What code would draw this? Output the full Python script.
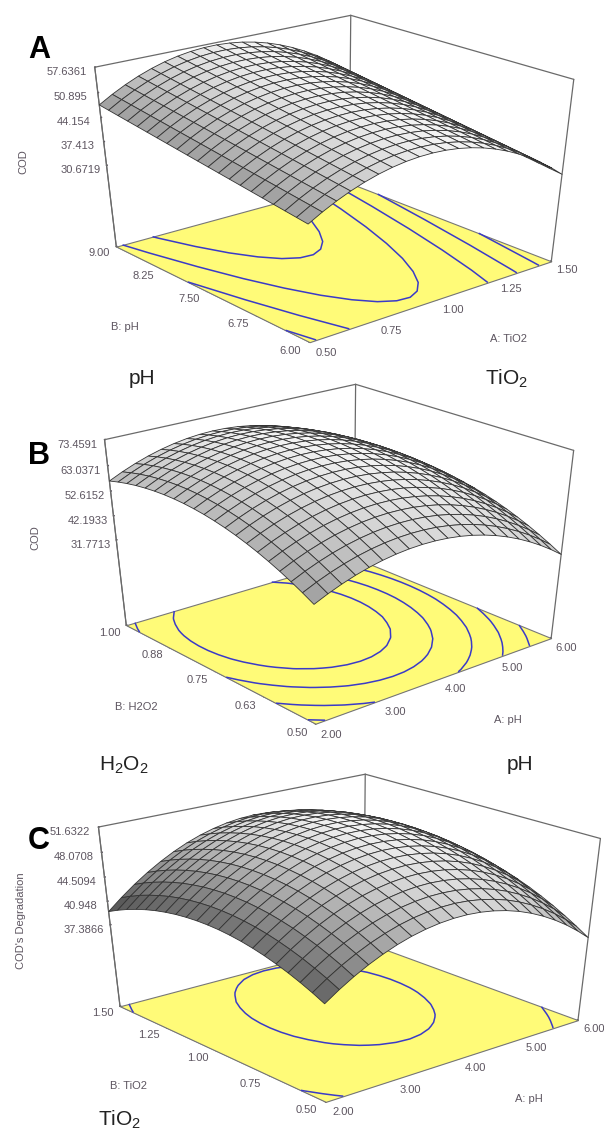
import numpy as np, matplotlib
matplotlib.use('Agg')
import matplotlib.pyplot as plt, seaborn as sns
from matplotlib.transforms import ScaledTranslation

sns.set_theme(style='white')
plt.rcParams['font.family'] = ['Liberation Sans', 'DejaVu Sans']
plt.rcParams['mathtext.default'] = 'regular'

# ---- data: response heights, rows = factor B, columns = factor A
COD_A = [
[38.60,40.65,42.44,43.99,45.28,46.33,47.12,47.67,47.96,48.01,47.80,47.35,46.64,45.69,44.48,43.03,41.32,39.37,37.16,34.70,32.00],
[39.05,41.10,42.89,44.44,45.73,46.78,47.57,48.12,48.41,48.46,48.25,47.80,47.09,46.14,44.93,43.48,41.77,39.82,37.61,35.15,32.45],
[39.50,41.55,43.34,44.89,46.18,47.23,48.02,48.57,48.86,48.91,48.70,48.25,47.54,46.59,45.38,43.93,42.22,40.27,38.06,35.60,32.90],
[39.95,42.00,43.79,45.34,46.63,47.68,48.47,49.02,49.31,49.36,49.15,48.70,47.99,47.04,45.83,44.38,42.67,40.72,38.51,36.05,33.35],
[40.40,42.45,44.24,45.79,47.08,48.13,48.92,49.47,49.76,49.81,49.60,49.15,48.44,47.49,46.28,44.83,43.12,41.17,38.96,36.50,33.80],
[40.85,42.90,44.69,46.24,47.53,48.58,49.37,49.92,50.21,50.26,50.05,49.60,48.89,47.94,46.73,45.28,43.57,41.62,39.41,36.95,34.25],
[41.30,43.35,45.14,46.69,47.98,49.03,49.82,50.37,50.66,50.71,50.50,50.05,49.34,48.39,47.18,45.73,44.02,42.07,39.86,37.40,34.70],
[41.75,43.80,45.59,47.14,48.43,49.48,50.27,50.82,51.11,51.16,50.95,50.50,49.79,48.84,47.63,46.18,44.47,42.52,40.31,37.85,35.15],
[42.20,44.25,46.04,47.59,48.88,49.93,50.72,51.27,51.56,51.61,51.40,50.95,50.24,49.29,48.08,46.63,44.92,42.97,40.76,38.30,35.60],
[42.65,44.70,46.49,48.04,49.33,50.38,51.17,51.72,52.01,52.06,51.85,51.40,50.69,49.74,48.53,47.08,45.37,43.42,41.21,38.75,36.05],
[43.10,45.15,46.94,48.49,49.78,50.83,51.62,52.17,52.46,52.51,52.30,51.85,51.14,50.19,48.98,47.53,45.82,43.87,41.66,39.20,36.50],
[43.55,45.60,47.39,48.94,50.23,51.28,52.07,52.62,52.91,52.96,52.75,52.30,51.59,50.64,49.43,47.98,46.27,44.32,42.11,39.65,36.95],
[44.00,46.05,47.84,49.39,50.68,51.73,52.52,53.07,53.36,53.41,53.20,52.75,52.04,51.09,49.88,48.43,46.72,44.77,42.56,40.10,37.40],
[44.45,46.50,48.29,49.84,51.13,52.18,52.97,53.52,53.81,53.86,53.65,53.20,52.49,51.54,50.33,48.88,47.17,45.22,43.01,40.55,37.85],
[44.90,46.95,48.74,50.29,51.58,52.63,53.42,53.97,54.26,54.31,54.10,53.65,52.94,51.99,50.78,49.33,47.62,45.67,43.46,41.00,38.30],
[45.35,47.40,49.19,50.74,52.03,53.08,53.87,54.42,54.71,54.76,54.55,54.10,53.39,52.44,51.23,49.78,48.07,46.12,43.91,41.45,38.75],
[45.80,47.85,49.64,51.19,52.48,53.53,54.32,54.87,55.16,55.21,55.00,54.55,53.84,52.89,51.68,50.23,48.52,46.57,44.36,41.90,39.20],
[46.25,48.30,50.09,51.64,52.93,53.98,54.77,55.32,55.61,55.66,55.45,55.00,54.29,53.34,52.13,50.68,48.97,47.02,44.81,42.35,39.65],
[46.70,48.75,50.54,52.09,53.38,54.43,55.22,55.77,56.06,56.11,55.90,55.45,54.74,53.79,52.58,51.13,49.42,47.47,45.26,42.80,40.10],
[47.15,49.20,50.99,52.54,53.83,54.88,55.67,56.22,56.51,56.56,56.35,55.90,55.19,54.24,53.03,51.58,49.87,47.92,45.71,43.25,40.55],
[47.60,49.65,51.44,52.99,54.28,55.33,56.12,56.67,56.96,57.01,56.80,56.35,55.64,54.69,53.48,52.03,50.32,48.37,46.16,43.70,41.00],
]
COD_B = [
[42.70,45.14,47.26,49.06,50.54,51.70,52.54,53.06,53.26,53.14,52.70,51.94,50.86,49.46,47.74,45.70,43.34,40.66,37.66,34.34,30.70],
[45.25,47.69,49.81,51.61,53.09,54.25,55.09,55.61,55.81,55.69,55.25,54.49,53.41,52.01,50.29,48.25,45.89,43.21,40.21,36.89,33.25],
[47.61,50.05,52.17,53.97,55.45,56.61,57.45,57.97,58.17,58.05,57.61,56.85,55.77,54.37,52.65,50.61,48.25,45.57,42.57,39.25,35.61],
[49.78,52.22,54.34,56.14,57.62,58.78,59.62,60.14,60.34,60.22,59.78,59.02,57.94,56.54,54.82,52.78,50.42,47.74,44.74,41.42,37.78],
[51.74,54.18,56.30,58.10,59.58,60.74,61.58,62.10,62.30,62.18,61.74,60.98,59.90,58.50,56.78,54.74,52.38,49.70,46.70,43.38,39.74],
[53.52,55.96,58.08,59.88,61.36,62.52,63.36,63.88,64.08,63.96,63.52,62.76,61.68,60.28,58.56,56.52,54.16,51.48,48.48,45.16,41.52],
[55.10,57.54,59.66,61.46,62.94,64.10,64.94,65.46,65.66,65.54,65.10,64.34,63.26,61.86,60.14,58.10,55.74,53.06,50.06,46.74,43.10],
[56.49,58.93,61.05,62.85,64.33,65.49,66.33,66.85,67.05,66.93,66.49,65.73,64.65,63.25,61.53,59.49,57.13,54.45,51.45,48.13,44.49],
[57.68,60.12,62.24,64.04,65.52,66.68,67.52,68.04,68.24,68.12,67.68,66.92,65.84,64.44,62.72,60.68,58.32,55.64,52.64,49.32,45.68],
[58.67,61.11,63.23,65.03,66.51,67.67,68.51,69.03,69.23,69.11,68.67,67.91,66.83,65.43,63.71,61.67,59.31,56.63,53.63,50.31,46.67],
[59.48,61.92,64.04,65.84,67.32,68.48,69.32,69.84,70.04,69.92,69.48,68.72,67.64,66.24,64.52,62.48,60.12,57.44,54.44,51.12,47.48],
[60.08,62.52,64.64,66.44,67.92,69.08,69.92,70.44,70.64,70.52,70.08,69.32,68.24,66.84,65.12,63.08,60.72,58.04,55.04,51.72,48.08],
[60.50,62.94,65.06,66.86,68.34,69.50,70.34,70.86,71.06,70.94,70.50,69.74,68.66,67.26,65.54,63.50,61.14,58.46,55.46,52.14,48.50],
[60.72,63.16,65.28,67.08,68.56,69.72,70.56,71.08,71.28,71.16,70.72,69.96,68.88,67.48,65.76,63.72,61.36,58.68,55.68,52.36,48.72],
[60.74,63.18,65.30,67.10,68.58,69.74,70.58,71.10,71.30,71.18,70.74,69.98,68.90,67.50,65.78,63.74,61.38,58.70,55.70,52.38,48.74],
[60.57,63.01,65.13,66.93,68.41,69.57,70.41,70.93,71.13,71.01,70.57,69.81,68.73,67.33,65.61,63.57,61.21,58.53,55.53,52.21,48.57],
[60.20,62.64,64.76,66.56,68.04,69.20,70.04,70.56,70.76,70.64,70.20,69.44,68.36,66.96,65.24,63.20,60.84,58.16,55.16,51.84,48.20],
[59.65,62.09,64.21,66.01,67.49,68.65,69.49,70.01,70.21,70.09,69.65,68.89,67.81,66.41,64.69,62.65,60.29,57.61,54.61,51.29,47.65],
[58.89,61.33,63.45,65.25,66.73,67.89,68.73,69.25,69.45,69.33,68.89,68.13,67.05,65.65,63.93,61.89,59.53,56.85,53.85,50.53,46.89],
[57.94,60.38,62.50,64.30,65.78,66.94,67.78,68.30,68.50,68.38,67.94,67.18,66.10,64.70,62.98,60.94,58.58,55.90,52.90,49.58,45.94],
[56.80,59.24,61.36,63.16,64.64,65.80,66.64,67.16,67.36,67.24,66.80,66.04,64.96,63.56,61.84,59.80,57.44,54.76,51.76,48.44,44.80],
]
COD_C = [
[38.80,40.18,41.41,42.48,43.40,44.17,44.79,45.25,45.56,45.72,45.73,45.58,45.28,44.83,44.23,43.47,42.56,41.50,40.29,38.92,37.40],
[39.64,41.03,42.28,43.36,44.29,45.07,45.71,46.18,46.50,46.67,46.70,46.56,46.27,45.83,45.25,44.50,43.60,42.55,41.36,40.00,38.49],
[40.39,41.80,43.05,44.15,45.09,45.89,46.53,47.02,47.35,47.54,47.57,47.45,47.17,46.75,46.17,45.44,44.55,43.52,42.33,40.99,39.49],
[41.06,42.48,43.75,44.85,45.81,46.62,47.28,47.77,48.12,48.32,48.37,48.25,47.99,47.58,47.02,46.29,45.42,44.40,43.23,41.89,40.41],
[41.64,43.07,44.35,45.47,46.44,47.26,47.93,48.44,48.80,49.01,49.07,48.97,48.72,48.32,47.77,47.06,46.20,45.19,44.03,42.71,41.24],
[42.14,43.58,44.88,46.01,46.99,47.82,48.51,49.03,49.40,49.62,49.70,49.61,49.37,48.98,48.45,47.75,46.90,45.90,44.76,43.45,41.99],
[42.55,44.01,45.31,46.46,47.45,48.30,48.99,49.53,49.91,50.15,50.23,50.16,49.93,49.56,49.03,48.35,47.51,46.53,45.39,44.10,42.65],
[42.88,44.35,45.67,46.82,47.83,48.69,49.40,49.94,50.34,50.59,50.69,50.62,50.41,50.05,49.54,48.86,48.04,47.07,45.95,44.66,43.23],
[43.12,44.60,45.93,47.10,48.12,48.99,49.71,50.27,50.68,50.94,51.05,51.00,50.80,50.45,49.95,49.29,48.48,47.52,46.41,45.14,43.72],
[43.28,44.77,46.12,47.30,48.33,49.21,49.95,50.52,50.94,51.21,51.34,51.30,51.11,50.77,50.29,49.64,48.84,47.89,46.80,45.54,44.13],
[43.35,44.86,46.21,47.41,48.45,49.35,50.09,50.68,51.11,51.40,51.53,51.51,51.33,51.01,50.53,49.90,49.11,48.18,47.09,45.85,44.45],
[43.34,44.86,46.23,47.43,48.49,49.40,50.16,50.75,51.20,51.50,51.65,51.63,51.47,51.16,50.70,50.07,49.30,48.38,47.31,46.07,44.69],
[43.24,44.77,46.15,47.37,48.44,49.36,50.13,50.74,51.20,51.51,51.67,51.67,51.52,51.22,50.77,50.16,49.40,48.49,47.43,46.21,44.84],
[43.06,44.60,46.00,47.23,48.31,49.24,50.03,50.65,51.12,51.44,51.62,51.63,51.49,51.20,50.77,50.17,49.42,48.52,47.48,46.27,44.91],
[42.79,44.35,45.75,47.00,48.09,49.04,49.83,50.47,50.95,51.29,51.47,51.50,51.37,51.10,50.67,50.09,49.35,48.47,47.43,46.24,44.89],
[42.44,44.01,45.43,46.68,47.79,48.75,49.56,50.20,50.70,51.05,51.25,51.28,51.17,50.91,50.50,49.92,49.20,48.33,47.31,46.12,44.79],
[42.00,43.58,45.01,46.28,47.40,48.37,49.19,49.85,50.36,50.72,50.93,50.98,50.88,50.63,50.23,49.67,48.96,48.10,47.09,45.92,44.60],
[41.47,43.06,44.51,45.79,46.92,47.90,48.74,49.41,49.93,50.30,50.53,50.59,50.50,50.26,49.88,49.33,48.63,47.78,46.79,45.63,44.32],
[40.87,42.48,43.93,45.23,46.37,47.37,48.21,48.90,49.43,49.82,50.05,50.13,50.05,49.83,49.45,48.92,48.23,47.40,46.41,45.27,43.97],
[40.18,41.80,43.27,44.57,45.73,46.74,47.60,48.29,48.84,49.24,49.49,49.57,49.51,49.30,48.94,48.41,47.74,46.92,45.95,44.81,43.53],
[39.40,41.03,42.51,43.83,45.00,46.02,46.89,47.60,48.16,48.57,48.83,48.93,48.88,48.68,48.33,47.82,47.16,46.35,45.39,44.27,43.00],
]
X_TICKS_A = [0.50, 0.75, 1.00, 1.25, 1.50]
Y_TICKS_A = [6.00, 6.75, 7.50, 8.25, 9.00]
Z_TICKS_A = ['30.6719', '37.413', '44.154', '50.895', '57.6361']
X_TICKS_B = [2.00, 3.00, 4.00, 5.00, 6.00]
Y_TICKS_B = [0.50, 0.63, 0.75, 0.88, 1.00]
Z_TICKS_B = ['31.7713', '42.1933', '52.6152', '63.0371', '73.4591']
X_TICKS_C = [2.00, 3.00, 4.00, 5.00, 6.00]
Y_TICKS_C = [0.50, 0.75, 1.00, 1.25, 1.50]
Z_TICKS_C = ['37.3866', '40.948', '44.5094', '48.0708', '51.6322']
FLOOR_Z = [6.1, -7.3, 24.4]
LEVELS_A = [35, 39.6, 44, 48.6, 52.8]
LEVELS_B = [37.7, 44.5, 51.3, 58.5, 64.5]
LEVELS_C = [40.5, 49.2]

W, H = 604, 1131
fig = plt.figure(figsize=(W / 100, H / 100), dpi=100)

panels = [
    (COD_A, X_TICKS_A, Y_TICKS_A, Z_TICKS_A, FLOOR_Z[0], LEVELS_A,
     (30.1978, -129.7603, 0.5812, 1.0039, 1.02), (.0833, .6942, .9068, .3064)),
    (COD_B, X_TICKS_B, Y_TICKS_B, Z_TICKS_B, FLOOR_Z[1], LEVELS_B,
     (30.634, -130.1898, 0.5758, 0.9891, 1.0178), (.1021, .3573, .8873, .3168)),
    (COD_C, X_TICKS_C, Y_TICKS_C, Z_TICKS_C, FLOOR_Z[2], LEVELS_C,
     (29.8514, -130.1523, 0.5964, 1.0057, 0.9995), (.0888, .0215, .9453, .3093)),
]
tc = '#5d5560'
col = '#6a6a6a'


def nudge(label, ax, dx, dy):
    shift = ScaledTranslation(dx / 72, dy / 72, fig.dpi_scale_trans)
    label.get_transform = lambda: ax.transData + shift


for cod, xt, yt, zl, floor, levels, cam, rect in panels:
    ax = fig.add_axes(list(rect), projection='3d')
    ax.apply_aspect = lambda position=None: None
    Z = np.array(cod)
    x0, x1, y0, y1 = xt[0], xt[-1], yt[0], yt[-1]
    zv = [float(v) for v in zl]
    z0, z1 = floor, zv[-1]
    ax.set_xlim(x0, x1, view_margin=0)
    ax.set_ylim(y0, y1, view_margin=0)
    ax.set_zlim(z0, z1, view_margin=0)
    ax.view_init(elev=cam[0], azim=cam[1])
    ax.set_proj_type('persp', focal_length=cam[2])
    ax.set_box_aspect((1, cam[3], cam[4]))
    ax.patch.set_alpha(0)
    ax.computed_zorder = False

    n = Z.shape[0]
    X, Y = np.meshgrid(np.linspace(x0, x1, n), np.linspace(y0, y1, n))
    zr = z1 - z0
    su = .5 * (Z[:-1, 1:] + Z[1:, 1:] - Z[:-1, :-1] - Z[1:, :-1]) * (n - 1) / zr
    sv = .5 * (Z[1:, :-1] + Z[1:, 1:] - Z[:-1, :-1] - Z[:-1, 1:]) * (n - 1) / zr
    g = np.clip(.97 - .24 * (su + .35) ** 2 - .2 * (sv + .1) ** 2, .2, .98)
    fc = np.dstack([g, g, g, np.ones_like(g)])

    ax.plot_surface(X[[0, -1]][:, [0, -1]], Y[[0, -1]][:, [0, -1]], np.full((2, 2), z0),
                    color='#FFFB78', shade=False, zorder=1, edgecolor='#777777', linewidth=.8)
    ax.contour(X, Y, Z, levels=levels, zdir='z', offset=z0, colors='#3a3ac8',
               linewidths=1.1, zorder=2)
    for (a1, b1, c1), (a2, b2, c2) in [((x0, y1, z1), (x1, y1, z1)), ((x1, y1, z1), (x1, y0, z1)),
                                       ((x0, y1, z0), (x0, y1, z1)), ((x1, y0, z0), (x1, y0, z1)),
                                       ((x1, y1, z0), (x1, y1, z1))]:
        ax.plot([a1, a2], [b1, b2], [c1, c2], color=col, lw=.9, zorder=1.5)
    ax.plot_surface(X, Y, Z, facecolors=fc, shade=False, rstride=1, cstride=1,
                    edgecolor='#333333', linewidth=.6, zorder=5, antialiased=True)

    ticks = [(ax.xaxis, xt, [f'{v:.2f}' for v in xt], 'bottom', 4.5, 0, 3.6),
             (ax.yaxis, yt, [f'{v:.2f}' for v in yt], 'bottom', 4, 0, 3.6),
             (ax.zaxis, zv, zl, 'center', 3, 2.2, -4)]
    for axis, tt, ll, va, pad, dx, dy in ticks:
        if axis is ax.yaxis:
            pos = np.linspace(y0, y1, len(tt))
            axis.set_ticks(pos)
        else:
            axis.set_ticks(tt)
        axis.set_ticklabels(ll, fontsize=8, color=tc)
        for l in axis.get_ticklabels():
            l.set_va(va)
            nudge(l, ax, dx, dy)
        axis.set_pane_color((1, 1, 1, 0))
        axis.pane.set_edgecolor((1, 1, 1, 0))
        axis.line.set_color(col)
        axis.line.set_linewidth(.8)
        axis._axinfo['grid']['linewidth'] = 0
        axis._axinfo['tick']['inward_factor'] = .0
        axis._axinfo['tick']['outward_factor'] = .03
        axis.set_tick_params(pad=pad, length=2, colors=tc)
    ax.grid(False)


def t(x, y, s, **k):
    fig.text(x / W, 1 - y / H, s, ha='center', va='center', **k)


lab = dict(fontsize=8, color=tc)
t(508, 339, 'A: TiO2', **lab); t(125, 327, 'B: pH', **lab); t(23, 162, 'COD', rotation=90, **lab)
t(136, 707, 'B: H2O2', **lab); t(508, 720, 'A: pH', **lab); t(35, 538, 'COD', rotation=90, **lab)
t(129, 1086, 'B: TiO2', **lab); t(529, 1099, 'A: pH', **lab)
t(21, 921, "COD's Degradation", rotation=90, **lab)
bl = dict(fontsize=22, fontweight='bold', color='black')
t(39, 50, 'A', **bl); t(39, 456, 'B', **bl); t(39, 841, 'C', **bl)
sl = dict(fontsize=15, color='#222222')
t(142, 379, 'pH', **sl); t(507, 379, 'TiO$_2$', **sl); t(124, 765, 'H$_2$O$_2$', **sl)
t(520, 765, 'pH', **sl); t(120, 1120, 'TiO$_2$', **sl)
fig.savefig('out.png', dpi=100)
